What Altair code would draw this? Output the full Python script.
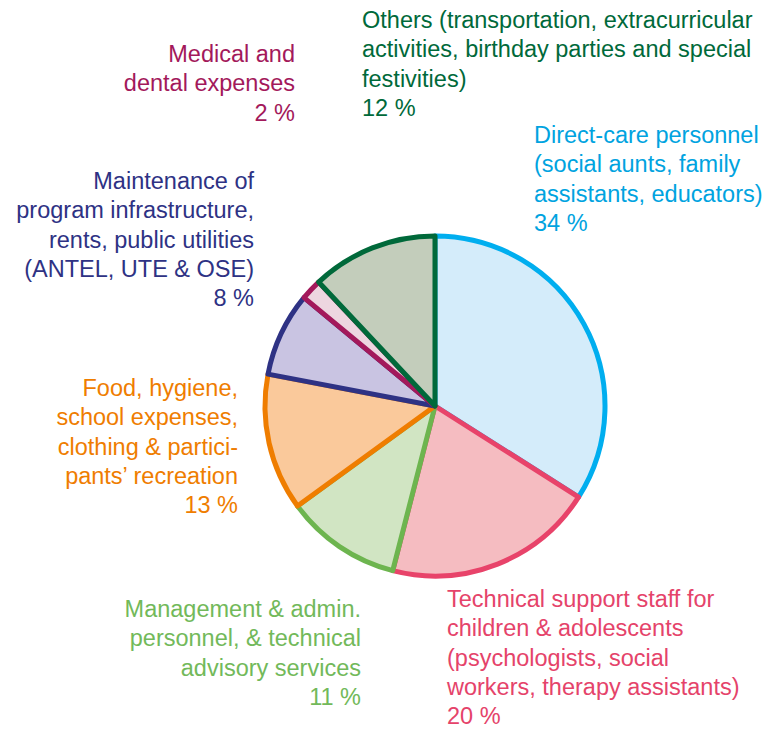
import altair as alt
import pandas as pd

# ---- data ----
categories = [
    "Direct-care personnel",
    "Technical support staff",
    "Management & admin.",
    "Food, hygiene",
    "Maintenance",
    "Medical and dental",
    "Others",
]
shares = [34, 20, 11, 13, 8, 2, 12]
stroke_colors = ["#00AEEF", "#E8436A", "#6DB54F", "#EF7D00", "#2E3284", "#A3195B", "#00693A"]
fill_colors = ["#D4ECFA", "#F5BCC1", "#D1E5C3", "#FAC99B", "#C9C4E2", "#EDD6E0", "#C3CDBB"]
text_colors = ["#00A3E0", "#E5436A", "#72B95A", "#EF7D00", "#2E3284", "#A3195B", "#00693A"]

label_lines = [
    ["Direct-care personnel", "(social aunts, family", "assistants, educators)", "34 %"],
    ["Technical support staff for", "children & adolescents", "(psychologists, social",
     "workers, therapy assistants)", "20 %"],
    ["Management & admin.", "personnel, & technical", "advisory services", "11 %"],
    ["Food, hygiene,", "school expenses,", "clothing & partici-", "pants\u2019 recreation", "13 %"],
    ["Maintenance of", "program infrastructure,", "rents, public utilities",
     "(ANTEL, UTE & OSE)", "8 %"],
    ["Medical and", "dental expenses", "2 %"],
    ["Others (transportation, extracurricular", "activities, birthday parties and special",
     "festivities)", "12 %"],
]

# ---- layout (page pixel coordinates) ----
label_anchor_x = [534, 447, 361, 238, 254, 295, 362]
label_first_baseline = [143, 607, 617, 396, 189, 62, 28]
label_align = ["left", "left", "right", "right", "right", "right", "left"]
line_height = 29.3
font_size = 23.5
font = "Liberation Sans"

W, H = 755, 722
cx, cy = 435, 406
radius = 170

pie_df = pd.DataFrame({
    "category": categories,
    "share": shares,
    "order": list(range(len(categories))),
    "fill": fill_colors,
    "stroke": stroke_colors,
})

rows = []
for i, lines in enumerate(label_lines):
    for j, t in enumerate(lines):
        rows.append({
            "text": t,
            "x": label_anchor_x[i],
            "y": label_first_baseline[i] + j * line_height,
            "color": text_colors[i],
            "align": label_align[i],
        })
text_df = pd.DataFrame(rows)

pie = alt.Chart(pie_df).mark_arc(
    outerRadius=radius, strokeWidth=5, strokeJoin="round"
).encode(
    theta=alt.Theta("share:Q", stack=True),
    order=alt.Order("order:Q"),
    fill=alt.Fill("fill:N", scale=None),
    stroke=alt.Stroke("stroke:N", scale=None),
    x=alt.value(cx - 8),
    y=alt.value(cy - 8),
)

xs = alt.X("x:Q", scale=alt.Scale(domain=[8, 8 + W]), axis=None)
ys = alt.Y("y:Q", scale=alt.Scale(domain=[8, 8 + H], reverse=True), axis=None)

left_text = alt.Chart(text_df).transform_filter(alt.datum.align == "left").mark_text(
    align="left", baseline="alphabetic", fontSize=font_size, font=font
).encode(x=xs, y=ys, text="text:N", color=alt.Color("color:N", scale=None))

right_text = alt.Chart(text_df).transform_filter(alt.datum.align == "right").mark_text(
    align="right", baseline="alphabetic", fontSize=font_size, font=font
).encode(x=xs, y=ys, text="text:N", color=alt.Color("color:N", scale=None))

chart = alt.layer(pie, left_text, right_text).properties(
    width=W, height=H, padding=0, autosize=alt.AutoSizeParams(type="none")
).configure_view(strokeWidth=0)

chart.save("out.html", embed_options={"renderer": "svg", "actions": False})
